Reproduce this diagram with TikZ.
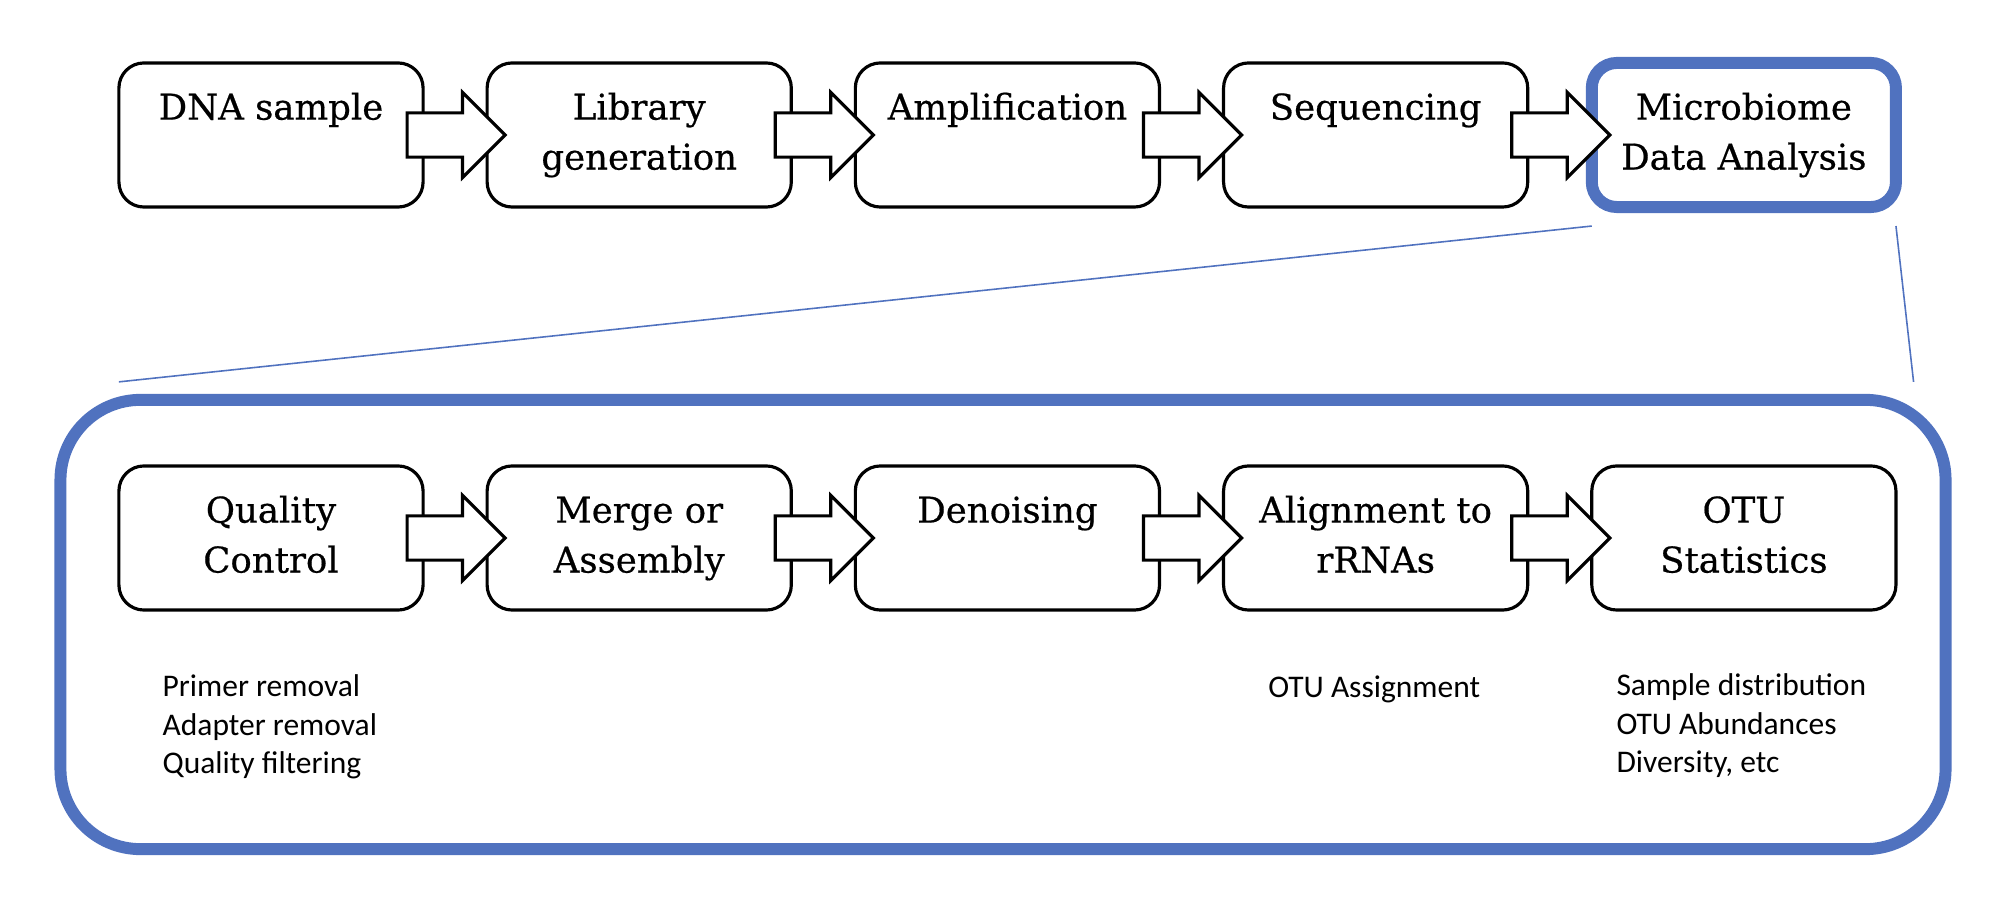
\documentclass[tikz,border=0pt]{standalone}
\usepackage{fontspec}
\setmainfont{DejaVu Serif}
\newfontfamily\stepfont{DejaVu Serif}[FakeBold=0.5]
\newfontfamily\notefont{Carlito}
\usetikzlibrary{positioning}
\usetikzlibrary{shapes.arrows}
\usetikzlibrary{calc}
\definecolor{b1}{RGB}{80,114,191}

\begin{document}
\begin{tikzpicture}[
    x=0.01cm, y=0.01cm,
    stepbox/.style={
        draw, line width=0.9pt, rounded corners=0.25cm,
        minimum width=3.04cm, minimum height=1.44cm,
        inner sep=0pt, outer sep=0pt
    },
    hl/.style={stepbox, draw=b1, line width=3.4pt},
    panelbox/.style={
        draw=b1, line width=3.4pt, rounded corners=0.8cm,
        minimum width=18.84cm, minimum height=4.49cm,
        inner sep=0pt, outer sep=0pt
    },
    steptext/.style={
        anchor=north, inner sep=0pt, align=center,
        font=\stepfont\fontsize{10.1pt}{14.2pt}\selectfont
    },
    fat/.style={
        single arrow, draw, fill=white, line width=0.9pt,
        minimum height=0.98cm, inner xsep=0pt, inner ysep=0.205cm,
        single arrow head extend=0.205cm, single arrow tip angle=90,
        anchor=tail, outer sep=0pt
    },
    note/.style={
        inner sep=0pt, align=left,
        font=\notefont\fontsize{8.96pt}{10.95pt}\selectfont
    },
    zoomline/.style={draw=b1, line width=0.45pt}
]
    \useasboundingbox (0,0) rectangle (2010,-904);

    % pipeline
    \node[stepbox] (dna) at (271,-135) {};
    \node[stepbox, right=0.64cm of dna] (lib) {};
    \node[stepbox, right=0.64cm of lib] (amp) {};
    \node[stepbox, right=0.64cm of amp] (seq) {};
    \node[hl, right=0.64cm of seq] (mda) {};

    % analysis steps
    \node[panelbox] (panel) at (1003,-624.5) {};
    \node[stepbox] (qc) at (271,-538) {};
    \node[stepbox, right=0.64cm of qc] (merge) {};
    \node[stepbox, right=0.64cm of merge] (denoise) {};
    \node[stepbox, right=0.64cm of denoise] (align) {};
    \node[stepbox, right=0.64cm of align] (stats) {};

    \coordinate (mdaL) at ([yshift=-0.19cm]mda.south west);
    \coordinate (mdaR) at ([yshift=-0.19cm]mda.south east);
    \coordinate (panelL) at ($(panel.north -| qc.west)+(0,18)$);
    \coordinate (panelR) at ($(panel.north east)+(-32,18)$);
    \draw[zoomline] (mdaL) -- (panelL);
    \draw[zoomline] (mdaR) -- (panelR);

    \node[fat] (a1) at ([xshift=-0.16cm]dna.east) {};
    \node[fat] (a2) at ([xshift=-0.16cm]lib.east) {};
    \node[fat] (a3) at ([xshift=-0.16cm]amp.east) {};
    \node[fat] (a4) at ([xshift=-0.16cm]seq.east) {};
    \node[fat] (b1) at ([xshift=-0.16cm]qc.east) {};
    \node[fat] (b2) at ([xshift=-0.16cm]merge.east) {};
    \node[fat] (b3) at ([xshift=-0.16cm]denoise.east) {};
    \node[fat] (b4) at ([xshift=-0.16cm]align.east) {};

    \node[steptext] (dnat) at ([yshift=-0.21cm]dna.north) {\strut DNA sample};
    \node[steptext] (libt) at ([yshift=-0.21cm]lib.north) {\strut Library\\generation};
    \node[steptext] (ampt) at ([yshift=-0.21cm]amp.north) {\strut Amplification};
    \node[steptext] (seqt) at ([yshift=-0.21cm]seq.north) {\strut Sequencing};
    \node[steptext] (mdat) at ([yshift=-0.21cm]mda.north) {\strut Microbiome\\Data Analysis};

    \node[steptext] (qct) at ([yshift=-0.21cm]qc.north) {\strut Quality\\Control};
    \node[steptext] (merget) at ([yshift=-0.21cm]merge.north) {\strut Merge or\\Assembly};
    \node[steptext] (denoiset) at ([yshift=-0.21cm]denoise.north) {\strut Denoising};
    \node[steptext] (alignt) at ([yshift=-0.21cm]align.north) {\strut Alignment to\\rRNAs};
    \node[steptext] (statst) at ([yshift=-0.21cm]stats.north) {\strut OTU\\Statistics};

    \node[note, below right=0.59cm and 0.43cm of qc.south west] (qcnote)
        {\strut Primer removal\\Adapter removal\\Quality filtering};
    \node[note, below right=0.60cm and 0.44cm of align.south west] (alignnote)
        {\strut OTU Assignment};
    \node[note, below right=0.58cm and 0.24cm of stats.south west] (statsnote)
        {\strut Sample distribution\\OTU Abundances\\Diversity, etc};

\end{tikzpicture}
\end{document}
